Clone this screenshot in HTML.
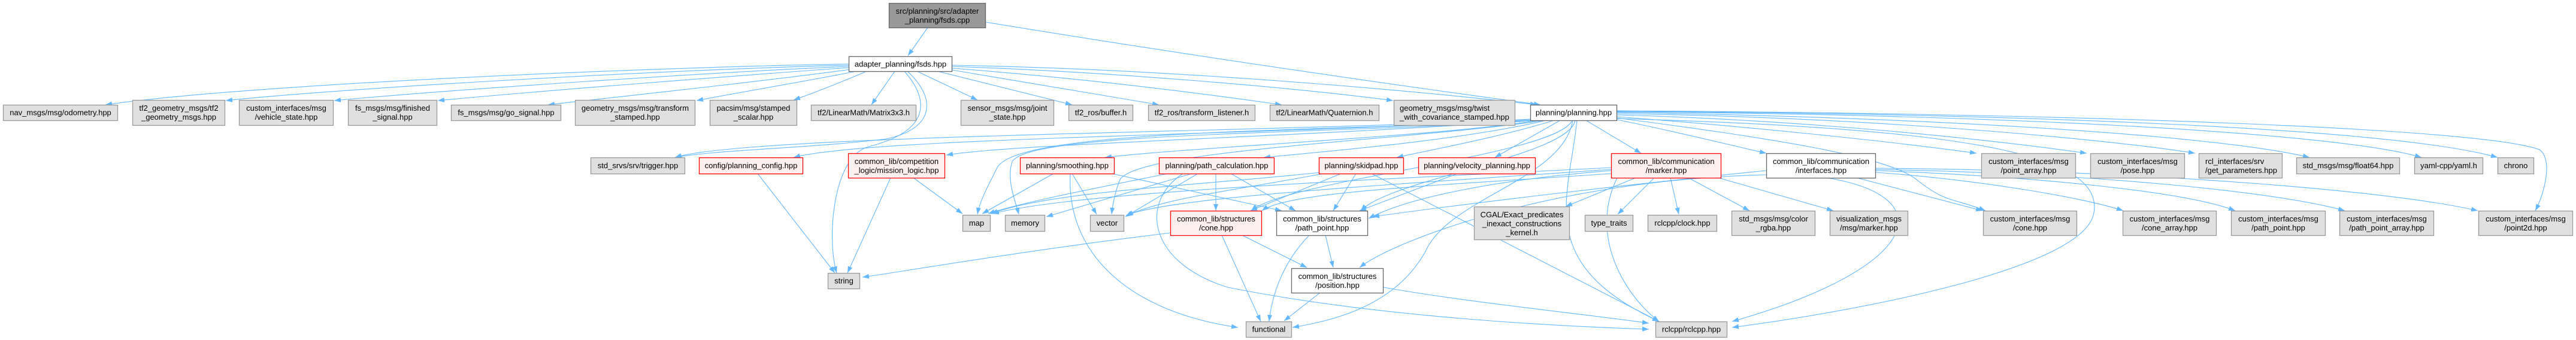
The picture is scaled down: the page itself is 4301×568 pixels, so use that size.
<!DOCTYPE html>
<html>
<head>
<meta charset="utf-8">
<style>
html,body{margin:0;padding:0;background:#fff;}
svg{display:block;}
text{font-family:"Liberation Sans",Arial,Helvetica,sans-serif;font-size:13px;fill:#000;}
.g{fill:#e0e0e0;stroke:#999;stroke-width:1.3;}
.w{fill:#fff;stroke:#666;stroke-width:1.3;}
.r{fill:#fff0f0;stroke:#ff0000;stroke-width:1.3;}
.root{fill:#999;stroke:#666;stroke-width:1.3;}
.e{fill:none;stroke:#63b8ff;stroke-width:1.1;marker-end:url(#a);}
.c{text-anchor:middle;}
</style>
</head>
<body>
<svg width="4301" height="568" viewBox="0 0 4301 568" xmlns="http://www.w3.org/2000/svg">
<defs>
<marker id="a" viewBox="0 0 11 8" refX="11" refY="4" markerWidth="11" markerHeight="8" markerUnits="userSpaceOnUse" orient="auto">
<path d="M0,0 L11,4 L0,8 z" fill="#63b8ff"/>
</marker>
</defs>
<rect x="0" y="0" width="4301" height="568" fill="#fff"/>

<!-- edges -->
<g>
<path class="e" d="M1549,46 L1516,93"/>
<path class="e" d="M1646,37 C2000,95 2350,145 2572,175"/>
<!-- fsds.hpp -> row2 -->
<path class="e" d="M1417,107 C1100,112 420,140 176,175"/>
<path class="e" d="M1417,109 C1150,115 600,145 377,168"/>
<path class="e" d="M1417,111 C1200,120 750,150 558,168"/>
<path class="e" d="M1417,113 C1250,125 900,152 731,168"/>
<path class="e" d="M1420,116 C1280,135 1050,160 915,175"/>
<path class="e" d="M1430,119 C1350,135 1230,155 1163,168"/>
<path class="e" d="M1447,119 C1410,135 1360,155 1325,167"/>
<path class="e" d="M1494,119 L1455,175"/>
<path class="e" d="M1531,119 L1632,167"/>
<path class="e" d="M1565,119 L1790,175"/>
<path class="e" d="M1590,117 L1935,175"/>
<path class="e" d="M1590,114 C1800,130 2000,155 2140,175"/>
<path class="e" d="M1590,111 C1850,120 2150,145 2326,168"/>
<path class="e" d="M1590,109 C1950,115 2350,150 2566,175"/>
<path class="e" d="M1515,119 C1565,165 1560,215 1480,232 C1350,248 1200,250 1127,263"/>
<path class="e" d="M1510,119 C1555,170 1550,220 1450,245 C1390,262 1380,400 1397,456"/>
<!-- planning.hpp -> left -->
<path class="e" d="M2556,199 C2100,222 1250,225 1127,263"/>
<path class="e" d="M2558,200 C2100,226 1450,230 1325,263"/>
<path class="e" d="M2562,201 C2150,230 1700,240 1580,259"/>
<path class="e" d="M2570,201 C2400,228 2000,245 1845,263"/>
<path class="e" d="M2582,201 C2450,232 2250,250 2110,263"/>
<path class="e" d="M2595,201 C2500,230 2400,248 2332,263"/>
<path class="e" d="M2605,201 L2496,263"/>
<path class="e" d="M2648,201 L2740,256"/>
<path class="e" d="M2565,201 C2200,220 1700,215 1665,280 C1650,310 1636,335 1632,358"/>
<path class="e" d="M2570,201 C2200,225 1720,220 1690,270 C1680,300 1695,335 1701,358"/>
<path class="e" d="M2580,201 C2350,235 1900,250 1870,300 C1862,320 1858,340 1856,358"/>
<path class="e" d="M2625,201 C2600,260 2150,300 2089,352"/>
<path class="e" d="M2630,201 C2620,260 2320,300 2272,352"/>
<path class="e" d="M2626,201 C2610,300 2420,330 2380,420 C2330,510 2230,535 2158,547"/>
<path class="e" d="M2633,201 C2620,330 2560,440 2770,537"/>
<!-- planning.hpp -> right -->
<path class="e" d="M2700,200 C2800,220 2900,245 2949,256"/>
<path class="e" d="M2700,195 C2900,210 3150,235 3300,256"/>
<path class="e" d="M2700,192 C3000,200 3300,230 3484,256"/>
<path class="e" d="M2700,190 C3100,195 3500,230 3665,256"/>
<path class="e" d="M2700,188 C3200,195 3700,225 3856,263"/>
<path class="e" d="M2700,187 C3300,190 3900,220 4043,263"/>
<path class="e" d="M2700,186 C3400,190 4000,215 4170,263"/>
<path class="e" d="M2700,185 C3500,190 4150,215 4240,250 C4262,265 4250,320 4233,352"/>
<path class="e" d="M2700,198 C3300,215 3520,260 3495,360 C3470,450 3100,520 2892,547"/>
<path class="e" d="M2700,197 C2950,230 3150,260 3200,300 C3250,340 3260,330 3315,352"/>
<!-- marker.hpp -->
<path class="e" d="M2731,297 L2614,345"/>
<path class="e" d="M2762,297 L2701,358"/>
<path class="e" d="M2789,297 L2803,358"/>
<path class="e" d="M2819,297 L2921,352"/>
<path class="e" d="M2869,297 L3061,352"/>
<path class="e" d="M2690,285 C2500,300 2350,330 2285,365"/>
<path class="e" d="M2690,280 C2300,300 1800,320 1657,357"/>
<path class="e" d="M2690,283 C2300,310 1950,330 1880,360"/>
<path class="e" d="M2690,290 C2400,310 2150,320 2107,352"/>
<path class="e" d="M2700,297 C2650,400 2720,500 2770,537"/>
<!-- interfaces.hpp -->
<path class="e" d="M2949,285 C2700,310 2450,340 2292,362"/>
<path class="e" d="M2949,292 C2600,300 2330,400 2270,447"/>
<path class="e" d="M3050,297 C3250,330 3200,450 2892,537"/>
<path class="e" d="M3100,297 L3310,352"/>
<path class="e" d="M3132,288 C3300,300 3480,330 3545,352"/>
<path class="e" d="M3132,285 C3400,295 3650,320 3732,352"/>
<path class="e" d="M3132,283 C3500,290 3800,320 3915,352"/>
<path class="e" d="M3132,281 C3600,285 4000,320 4137,352"/>
<!-- row3 misc -->
<path class="e" d="M1265,290 L1394,456"/>
<path class="e" d="M1487,297 L1415,456"/>
<path class="e" d="M1525,297 L1607,357"/>
<path class="e" d="M1759,290 L1640,357"/>
<path class="e" d="M1790,290 L1831,358"/>
<path class="e" d="M1856,290 L2140,352"/>
<path class="e" d="M1787,290 C1780,420 1880,520 2067,547"/>
<path class="e" d="M1950,290 C1800,320 1700,340 1650,357"/>
<path class="e" d="M1990,290 L1747,362"/>
<path class="e" d="M2000,290 L1879,362"/>
<path class="e" d="M2030,290 L2030,352"/>
<path class="e" d="M2055,290 L2163,352"/>
<path class="e" d="M1975,290 C1900,340 1920,440 2050,480 C2300,530 2600,545 2753,550"/>
<path class="e" d="M2205,288 C2000,310 1750,320 1655,357"/>
<path class="e" d="M2210,290 C2050,320 1950,330 1881,360"/>
<path class="e" d="M2239,290 L2088,352"/>
<path class="e" d="M2264,290 L2226,352"/>
<path class="e" d="M2290,290 L2770,537"/>
<path class="e" d="M2433,290 L2270,352"/>
<!-- structures -->
<path class="e" d="M1954,389 C1700,420 1500,455 1440,463"/>
<path class="e" d="M2074,393 L2182,447"/>
<path class="e" d="M2040,393 L2105,537"/>
<path class="e" d="M2213,393 L2226,447"/>
<path class="e" d="M2186,393 C2150,430 2125,480 2119,537"/>
<path class="e" d="M2204,489 L2144,536"/>
<path class="e" d="M2310,480 C2450,505 2650,525 2753,540"/>
</g>

<!-- nodes -->
<g>
<rect class="root" x="1484.5" y="5.5" width="161" height="41"/>
<text class="c" x="1565" y="23">src/planning/src/adapter</text>
<text class="c" x="1565" y="38">_planning/fsds.cpp</text>

<rect class="w" x="1417.5" y="94.5" width="172" height="25"/>
<text class="c" x="1503.5" y="111.5">adapter_planning/fsds.hpp</text>

<rect class="g" x="5.5" y="175.5" width="191" height="26"/>
<text class="c" x="101" y="192.5">nav_msgs/msg/odometry.hpp</text>

<rect class="g" x="221.5" y="167.5" width="154" height="42"/>
<text class="c" x="298.5" y="185">tf2_geometry_msgs/tf2</text>
<text class="c" x="298.5" y="200">_geometry_msgs.hpp</text>

<rect class="g" x="399.5" y="167.5" width="157" height="42"/>
<text class="c" x="478" y="185">custom_interfaces/msg</text>
<text class="c" x="478" y="200">/vehicle_state.hpp</text>

<rect class="g" x="581.5" y="167.5" width="148" height="42"/>
<text class="c" x="655.5" y="185">fs_msgs/msg/finished</text>
<text class="c" x="655.5" y="200">_signal.hpp</text>

<rect class="g" x="753.5" y="175.5" width="183" height="26"/>
<text class="c" x="845" y="192.5">fs_msgs/msg/go_signal.hpp</text>

<rect class="g" x="960.5" y="167.5" width="200" height="42"/>
<text class="c" x="1060.5" y="185">geometry_msgs/msg/transform</text>
<text class="c" x="1060.5" y="200">_stamped.hpp</text>

<rect class="g" x="1185.5" y="167.5" width="145" height="42"/>
<text class="c" x="1258" y="185">pacsim/msg/stamped</text>
<text class="c" x="1258" y="200">_scalar.hpp</text>

<rect class="g" x="1354.5" y="175.5" width="175" height="26"/>
<text class="c" x="1442" y="192.5">tf2/LinearMath/Matrix3x3.h</text>

<rect class="g" x="1604.5" y="167.5" width="155" height="42"/>
<text class="c" x="1682" y="185">sensor_msgs/msg/joint</text>
<text class="c" x="1682" y="200">_state.hpp</text>

<rect class="g" x="1784.5" y="175.5" width="107" height="26"/>
<text class="c" x="1838" y="192.5">tf2_ros/buffer.h</text>

<rect class="g" x="1917.5" y="175.5" width="178" height="26"/>
<text class="c" x="2006.5" y="192.5">tf2_ros/transform_listener.h</text>

<rect class="g" x="2120.5" y="175.5" width="182" height="26"/>
<text class="c" x="2211.5" y="192.5">tf2/LinearMath/Quaternion.h</text>

<rect class="g" x="2327.5" y="167.5" width="202" height="42"/>
<text x="2337" y="185">geometry_msgs/msg/twist</text>
<text x="2337" y="200">_with_covariance_stamped.hpp</text>

<rect class="w" x="2555.5" y="175.5" width="144" height="26"/>
<text class="c" x="2627.5" y="192.5">planning/planning.hpp</text>

<!-- row 3 -->
<rect class="g" x="986.5" y="263.5" width="157" height="27"/>
<text class="c" x="1065" y="281">std_srvs/srv/trigger.hpp</text>

<rect class="r" x="1167.5" y="263.5" width="173" height="27"/>
<text class="c" x="1254" y="281">config/planning_config.hpp</text>

<rect class="r" x="1416.5" y="256.5" width="161" height="41"/>
<text class="c" x="1497" y="274">common_lib/competition</text>
<text class="c" x="1497" y="289">_logic/mission_logic.hpp</text>

<rect class="r" x="1703.5" y="263.5" width="157" height="27"/>
<text class="c" x="1782" y="281">planning/smoothing.hpp</text>

<rect class="r" x="1935.5" y="263.5" width="192" height="27"/>
<text class="c" x="2031.5" y="281">planning/path_calculation.hpp</text>

<rect class="r" x="2202.5" y="263.5" width="141" height="27"/>
<text class="c" x="2273" y="281">planning/skidpad.hpp</text>

<rect class="r" x="2368.5" y="263.5" width="195" height="27"/>
<text class="c" x="2466" y="281">planning/velocity_planning.hpp</text>

<rect class="r" x="2690.5" y="256.5" width="183" height="41"/>
<text class="c" x="2782" y="274">common_lib/communication</text>
<text class="c" x="2782" y="289">/marker.hpp</text>

<rect class="w" x="2949.5" y="256.5" width="182" height="41"/>
<text class="c" x="3040.5" y="274">common_lib/communication</text>
<text class="c" x="3040.5" y="289">/interfaces.hpp</text>

<rect class="g" x="3308.5" y="256.5" width="157" height="41"/>
<text class="c" x="3387" y="274">custom_interfaces/msg</text>
<text class="c" x="3387" y="289">/point_array.hpp</text>

<rect class="g" x="3490.5" y="256.5" width="157" height="41"/>
<text class="c" x="3569" y="274">custom_interfaces/msg</text>
<text class="c" x="3569" y="289">/pose.hpp</text>

<rect class="g" x="3671.5" y="256.5" width="139" height="41"/>
<text x="3682" y="274">rcl_interfaces/srv</text>
<text x="3682" y="289">/get_parameters.hpp</text>

<rect class="g" x="3834.5" y="263.5" width="172" height="27"/>
<text class="c" x="3920.5" y="281">std_msgs/msg/float64.hpp</text>

<rect class="g" x="4031.5" y="263.5" width="114" height="27"/>
<text class="c" x="4088.5" y="281">yaml-cpp/yaml.h</text>

<rect class="g" x="4170.5" y="263.5" width="60" height="27"/>
<text class="c" x="4200.5" y="281">chrono</text>

<!-- row 4 -->
<rect class="g" x="1607.5" y="359.5" width="46" height="27"/>
<text class="c" x="1630.5" y="377">map</text>

<rect class="g" x="1678.5" y="359.5" width="66" height="27"/>
<text class="c" x="1711.5" y="377">memory</text>

<rect class="g" x="1820.5" y="359.5" width="56" height="27"/>
<text class="c" x="1848.5" y="377">vector</text>

<rect class="r" x="1954.5" y="352.5" width="152" height="41"/>
<text class="c" x="2030.5" y="370">common_lib/structures</text>
<text class="c" x="2030.5" y="385">/cone.hpp</text>

<rect class="w" x="2131.5" y="352.5" width="152" height="41"/>
<text class="c" x="2207.5" y="370">common_lib/structures</text>
<text class="c" x="2207.5" y="385">/path_point.hpp</text>

<rect class="g" x="2461.5" y="345.5" width="159" height="55"/>
<text class="c" x="2541" y="363">CGAL/Exact_predicates</text>
<text class="c" x="2541" y="378">_inexact_constructions</text>
<text class="c" x="2541" y="393">_kernel.h</text>

<rect class="g" x="2646.5" y="359.5" width="80" height="27"/>
<text class="c" x="2686.5" y="377">type_traits</text>

<rect class="g" x="2751.5" y="359.5" width="115" height="27"/>
<text class="c" x="2809" y="377">rclcpp/clock.hpp</text>

<rect class="g" x="2891.5" y="352.5" width="139" height="41"/>
<text class="c" x="2961" y="370">std_msgs/msg/color</text>
<text class="c" x="2961" y="385">_rgba.hpp</text>

<rect class="g" x="3055.5" y="352.5" width="130" height="41"/>
<text class="c" x="3120.5" y="370">visualization_msgs</text>
<text class="c" x="3120.5" y="385">/msg/marker.hpp</text>

<rect class="g" x="3311.5" y="352.5" width="156" height="41"/>
<text class="c" x="3389.5" y="370">custom_interfaces/msg</text>
<text class="c" x="3389.5" y="385">/cone.hpp</text>

<rect class="g" x="3544.5" y="352.5" width="156" height="41"/>
<text class="c" x="3622.5" y="370">custom_interfaces/msg</text>
<text class="c" x="3622.5" y="385">/cone_array.hpp</text>

<rect class="g" x="3725.5" y="352.5" width="157" height="41"/>
<text class="c" x="3804" y="370">custom_interfaces/msg</text>
<text class="c" x="3804" y="385">/path_point.hpp</text>

<rect class="g" x="3906.5" y="352.5" width="157" height="41"/>
<text class="c" x="3985" y="370">custom_interfaces/msg</text>
<text class="c" x="3985" y="385">/path_point_array.hpp</text>

<rect class="g" x="4138.5" y="352.5" width="157" height="41"/>
<text class="c" x="4217" y="370">custom_interfaces/msg</text>
<text class="c" x="4217" y="385">/point2d.hpp</text>

<!-- row 5 -->
<rect class="g" x="1382.5" y="456.5" width="53" height="26"/>
<text class="c" x="1409" y="473.5">string</text>

<rect class="w" x="2156.5" y="448.5" width="153" height="41"/>
<text class="c" x="2233" y="466">common_lib/structures</text>
<text class="c" x="2233" y="481">/position.hpp</text>

<!-- row 6 -->
<rect class="g" x="2080.5" y="537.5" width="76" height="26"/>
<text class="c" x="2118.5" y="554.5">functional</text>

<rect class="g" x="2764.5" y="537.5" width="119" height="26"/>
<text class="c" x="2824" y="554.5">rclcpp/rclcpp.hpp</text>
</g>
</svg>
</body>
</html>
